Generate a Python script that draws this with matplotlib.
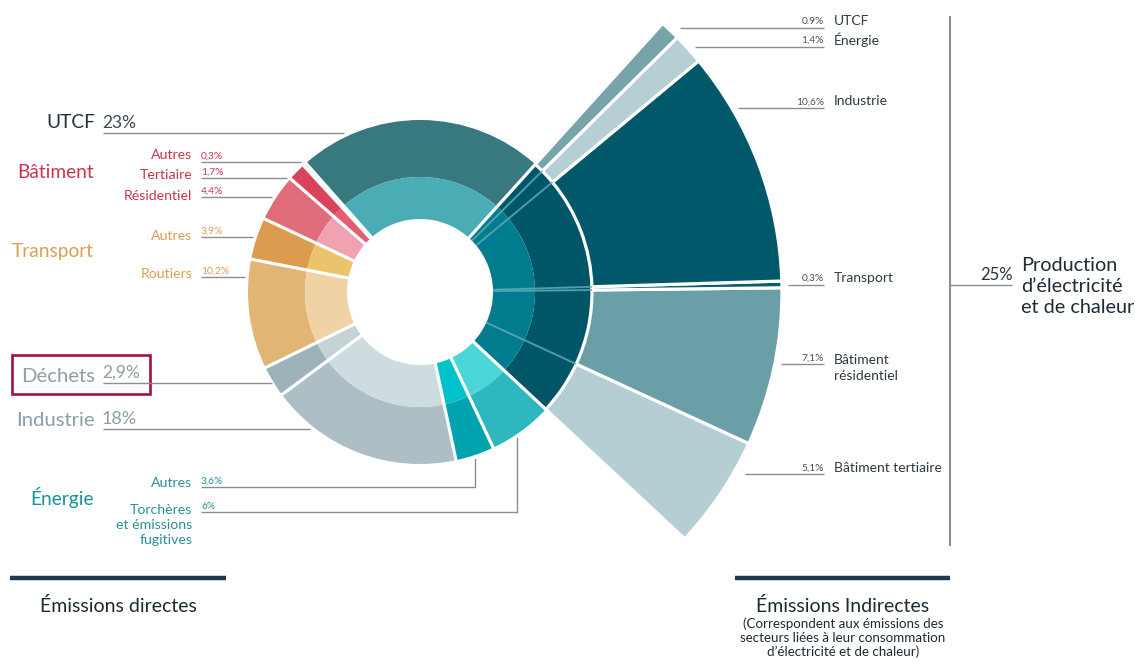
import numpy as np
import matplotlib
matplotlib.use('Agg')
import matplotlib.pyplot as plt
from matplotlib.patches import Rectangle

plt.rcParams['font.family'] = ['Lato', 'DejaVu Sans']

# ---------------- data ----------------
direct_labels = ['UTCF', 'Bâtiment Autres', 'Bâtiment Tertiaire', 'Bâtiment Résidentiel',
                 'Transport Autres', 'Transport Routiers', 'Déchets', 'Industrie',
                 'Énergie Autres', 'Énergie Torchères']
direct_values = [23, 0.3, 1.7, 4.4, 3.9, 10.2, 2.9, 18, 3.6, 6]
direct_outer_colors = ['#37797f', '#c7364a', '#d9445a', '#e06b79', '#db9c4d', '#e1b573',
                       '#9cb1b8', '#adbfc5', '#00a3ae', '#2eb7bf']
direct_inner_colors = ['#4aadb5', '#d84a5e', '#e45c72', '#f0a2b0', '#ebc36c', '#efd3a5',
                       '#c5d3d7', '#cfdcdf', '#00c3c9', '#4cd5d9']

production_total = 25
production_outer_color = '#005667'
production_inner_color = '#007c8e'

indirect_labels = ['UTCF', 'Énergie', 'Industrie', 'Transport', 'Bâtiment\nrésidentiel',
                   'Bâtiment tertiaire']
indirect_pct_text = ['0.9%', '1,4%', '10,6%', '0,3%', '7,1%', '5,1%']
indirect_values = [0.9, 1.4, 10.6, 0.3, 7.1, 5.1]
indirect_colors = ['#77a3ab', '#b5cfd4', '#00586a', '#0b5d6d', '#6a9fa7', '#b5ced4']

# ---------------- figure ----------------
W, H = 1135, 664
fig = plt.figure(figsize=(W / 100, H / 100), dpi=100)
ax = fig.add_axes([0, 0, 1, 1])


def Y(y):
    return H - y


cx, cy = 420, Y(292)
r_hole, r_mid, r_out, r_fan = 73, 115, 172, 362
start = -43

# production sub-slices (counter-clockwise order starting from the bottom)
scale = production_total / sum(indirect_values)
prod_sub = [v * scale for v in reversed(indirect_values)]
ring_vals = prod_sub + direct_values
n_sub = len(prod_sub)

outer_cols = [production_outer_color] * n_sub + direct_outer_colors
inner_cols = [production_inner_color] * n_sub + direct_inner_colors

ax.pie(ring_vals, radius=r_out, center=(cx, cy), startangle=start, counterclock=True,
       colors=outer_cols, wedgeprops=dict(width=r_out - r_mid, linewidth=0))
ax.pie(ring_vals, radius=r_mid, center=(cx, cy), startangle=start, counterclock=True,
       colors=inner_cols, wedgeprops=dict(width=r_mid - r_hole, linewidth=0))

total = sum(ring_vals)
bounds = start + 360 * np.concatenate([[0], np.cumsum(ring_vals)]) / total


def radial(theta, r0, r1, **kw):
    t = np.deg2rad(theta)
    ax.plot([cx + r0 * np.cos(t), cx + r1 * np.cos(t)],
            [cy + r0 * np.sin(t), cy + r1 * np.sin(t)], solid_capstyle='butt', **kw)


# light lines inside production sector
for i in range(1, n_sub):
    radial(bounds[i], r_hole, r_out, color='#5aaab6', lw=1.4, alpha=0.8)
# white separators
for i in [0] + list(range(n_sub, len(bounds) - 1)):
    radial(bounds[i], r_hole - 1, r_out + 1, color='white', lw=2.3)

# exploded fan for the production sector
fan_vals = prod_sub + [sum(direct_values)]
fan_cols = list(reversed(indirect_colors)) + ['none']
fan, _ = ax.pie(fan_vals, radius=r_fan, center=(cx, cy), startangle=start, counterclock=True,
                colors=fan_cols, wedgeprops=dict(width=r_fan - r_out, edgecolor='white',
                                                 linewidth=2.3))
fan[-1].set_visible(False)

ax.set_xlim(0, W)
ax.set_ylim(0, H)
ax.set_aspect('equal')
ax.axis('off')

LC = '#8e8e8e'


def hline(y, x0, x1):
    ax.plot([x0, x1], [Y(y), Y(y)], color=LC, lw=1.0, solid_capstyle='butt')


# ---------------- left labels ----------------
big = 13.8
sm = 10.2
pc = 7.3
ax.text(95, Y(123), 'UTCF', ha='right', va='center', fontsize=big, color='#22313c')
ax.text(102, Y(131), '23%', ha='left', va='bottom', fontsize=12.5, color='#3e4a54')
hline(133, 103, 344)

red = '#c9354d'
ax.text(94, Y(173), 'Bâtiment', ha='right', va='center', fontsize=big, color=red)
small_rows_bat = [('Autres', '0,3%', 155, 162, 301),
                  ('Tertiaire', '1,7%', 175, 178, 287),
                  ('Résidentiel', '4,4%', 196, 197, 272)]
for lab, pct, ty, ly, x1 in small_rows_bat:
    ax.text(192, Y(ty), lab, ha='right', va='center', fontsize=sm, color=red)
    ax.text(201, Y(ly - 1.5), pct, ha='left', va='bottom', fontsize=pc, color=red)
    hline(ly, 201, x1)

orange = '#d9a056'
ax.text(94, Y(252), 'Transport', ha='right', va='center', fontsize=big, color=orange)
small_rows_tr = [('Autres', '3,9%', 236, 237, 253),
                 ('Routiers', '10,2%', 274, 277, 245)]
for lab, pct, ty, ly, x1 in small_rows_tr:
    ax.text(192, Y(ty), lab, ha='right', va='center', fontsize=sm, color=orange)
    ax.text(201, Y(ly - 1.5), pct, ha='left', va='bottom', fontsize=pc, color=orange)
    hline(ly, 201, x1)

grey = '#8d9ea7'
ax.text(95, Y(376), 'Déchets', ha='right', va='center', fontsize=14.6, color=grey)
ax.text(102, Y(381), '2,9%', ha='left', va='bottom', fontsize=12.5, color=grey)
hline(383, 103, 272)
ax.add_patch(Rectangle((12, Y(394)), 138, 39, fill=False, edgecolor='#a3123f', lw=1.9))

ax.text(95, Y(420), 'Industrie', ha='right', va='center', fontsize=14.6, color=grey)
ax.text(102, Y(427), '18%', ha='left', va='bottom', fontsize=13, color=grey)
hline(429, 103, 310)

teal = '#17929a'
ax.text(94, Y(498), 'Énergie', ha='right', va='center', fontsize=big, color=teal)
steal = '#2b8f98'
ax.text(192, Y(483), 'Autres', ha='right', va='center', fontsize=sm, color=steal)
ax.text(201, Y(485.5), '3,6%', ha='left', va='bottom', fontsize=pc, color=steal)
hline(487, 201, 475)
ax.plot([475, 475], [Y(487), Y(459)], color=LC, lw=1.0)
ax.text(192, Y(525), 'Torchères\net émissions\nfugitives', ha='right', va='center',
        fontsize=sm, color=steal, linespacing=1.35)
ax.text(201, Y(511), '6%', ha='left', va='bottom', fontsize=pc, color=steal)
hline(512, 201, 517)
ax.plot([517, 517], [Y(512), Y(438)], color=LC, lw=1.0)

# ---------------- right labels ----------------
right_rows = [(21, 28, 680), (40, 46.5, 695), (101, 108, 738), (278, 284.5, 788),
              (367.5, 364, 781), (468, 474, 745)]
for (ty, ly, x0), lab, pct in zip(right_rows, indirect_labels, indirect_pct_text):
    hline(ly, x0, 824)
    ax.text(824, Y(ly - 1.5), pct, ha='right', va='bottom', fontsize=pc, color='#4a4f55')
    ax.text(834, Y(ty), lab, ha='left', va='center', fontsize=10, color='#2d3a44',
            linespacing=1.4)

# bracket
ax.plot([950, 950], [Y(17), Y(545)], color='#8e8e8e', lw=1.5)
hline(285, 950, 1012)
ax.text(1013, Y(283), '25%', ha='right', va='bottom', fontsize=12, color='#26333d')
ax.text(1021, Y(257), 'Production\nd’électricité\net de chaleur', ha='left', va='top',
        fontsize=14.3, color='#1f2b36', linespacing=1.28)

# ---------------- bottom ----------------
ax.plot([10, 226], [Y(578), Y(578)], color='#1c3a4a', lw=3.2, solid_capstyle='butt')
ax.plot([735, 950], [Y(578), Y(578)], color='#1c3a4a', lw=3.2, solid_capstyle='butt')
ax.text(40, Y(606), 'Émissions directes', ha='left', va='center', fontsize=14,
        color='#1c2a33')
ax.text(843, Y(606), 'Émissions Indirectes', ha='center', va='center', fontsize=14,
        color='#1c2a33')
ax.text(843, Y(638), '(Correspondent aux émissions des\nsecteurs liées à leur consommation\n'
        'd’électricité et de chaleur)', ha='center', va='center', fontsize=9.6,
        color='#1c2a33', linespacing=1.17)

fig.savefig('out.png', dpi=100, facecolor='white')
